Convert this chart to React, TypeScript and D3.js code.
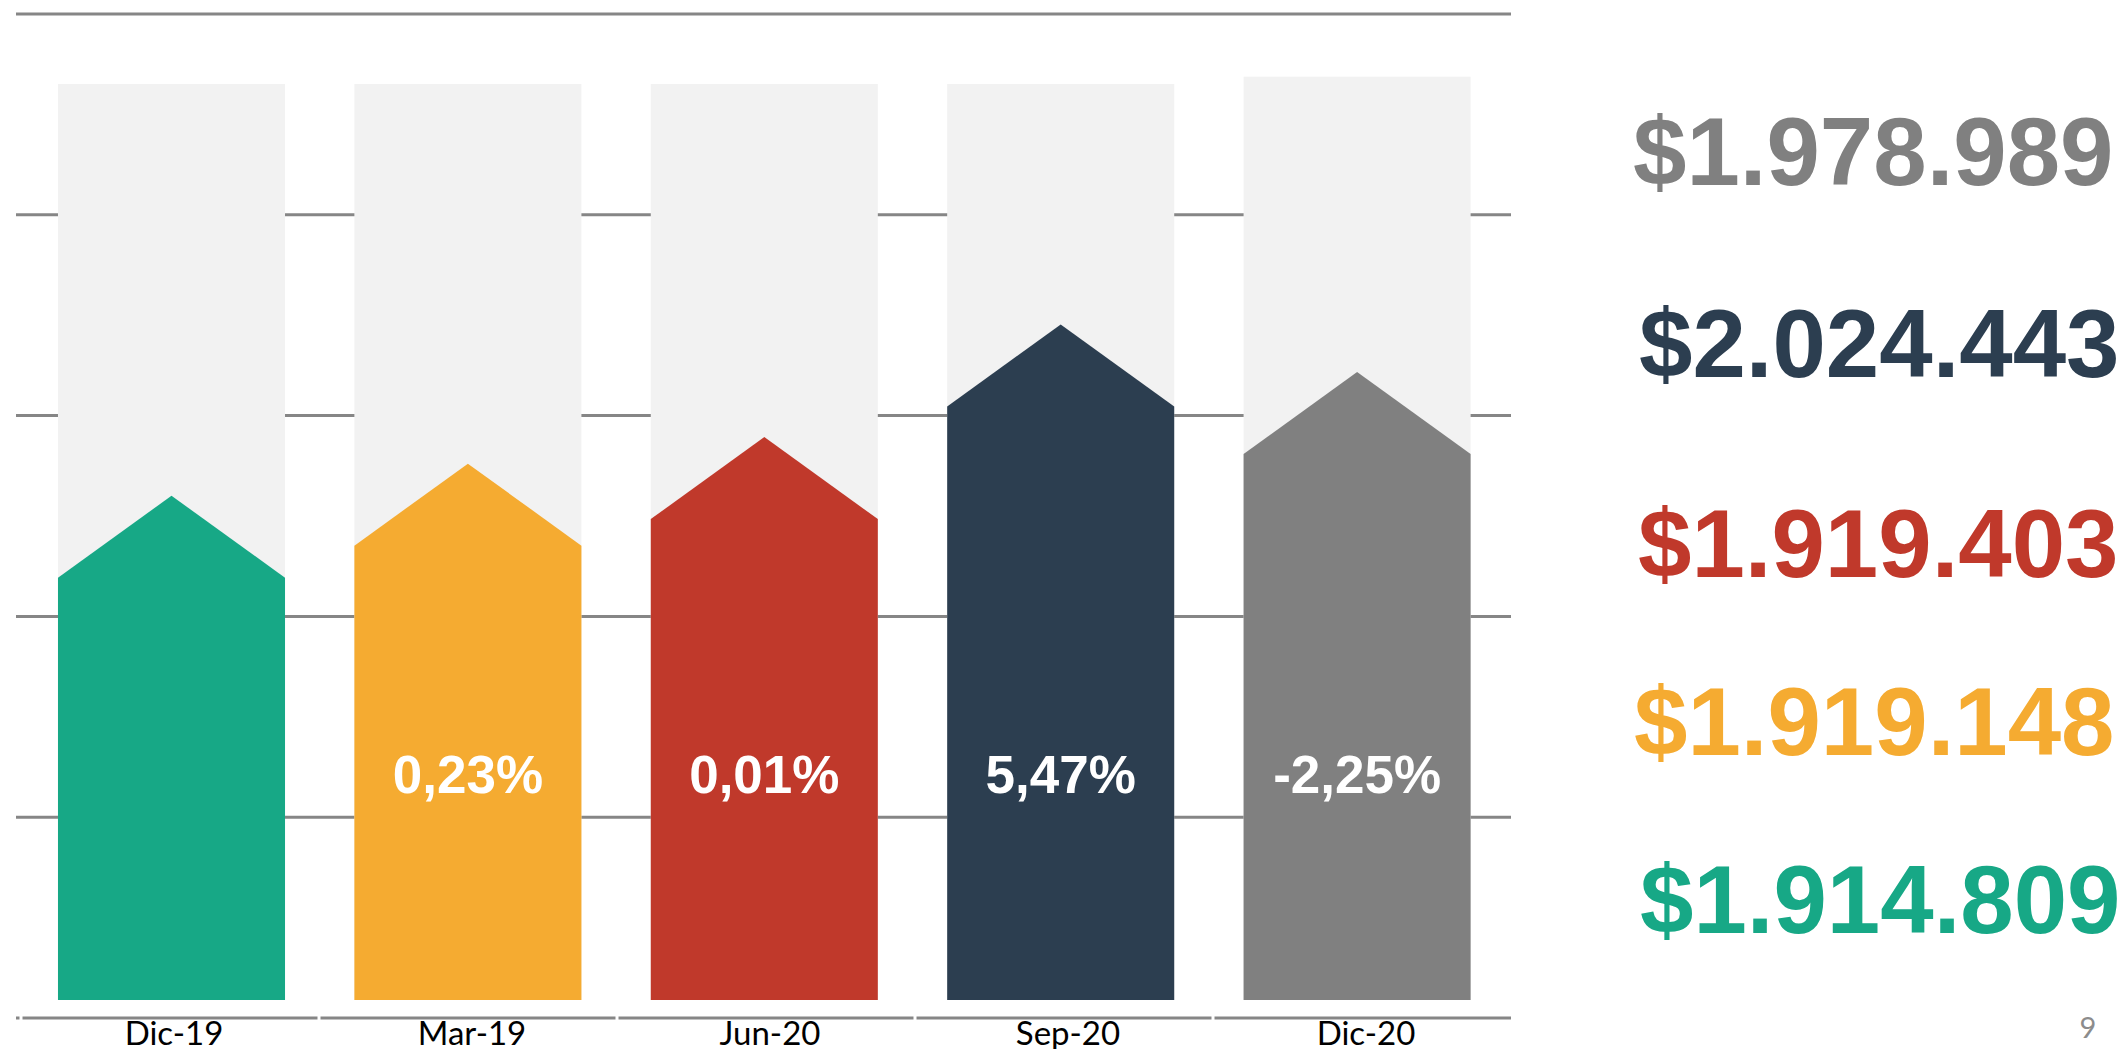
import React from "react";
import * as d3 from "d3";

// quarters and closing amounts
const categories = ["Dic-19", "Mar-19", "Jun-20", "Sep-20", "Dic-20"];
const amounts = [1914809, 1919148, 1919403, 2024443, 1978989];
// arrow shoulder level of each bar, and the pale track behind it (0-100 of the bar area)
const barLevels = [46.1, 49.6, 52.5, 64.8, 59.6];
const trackLevels = [100, 100, 100, 100, 100.8];
const colors = ["#17a886", "#f5ab31", "#c0392b", "#2c3e50", "#808080"];
const gridTicks = [0, 20, 40, 60, 80, 100];

const W = 2123;
const H = 1049;
const headH = 82; // arrow head height, px

// right hand amounts, drawn top to bottom (last quarter first)
const amountRows = [
  { idx: 4, x: 1633, y: 185 },
  { idx: 3, x: 1639, y: 377 },
  { idx: 2, x: 1638, y: 577 },
  { idx: 1, x: 1634, y: 755 },
  { idx: 0, x: 1640, y: 933 },
];

const fmtAmount = (v: number) =>
  "$" + d3.format(",")(v).replace(/,/g, ".");

const fmtChange = (cur: number, prev: number) =>
  (((cur - prev) / prev) * 100).toFixed(2).replace(".", ",") + "%";

export default function App() {
  // gridlines / category axis
  const yGrid = d3.scaleLinear().domain([0, 100]).range([1018, 14]);
  const xAxis = d3.scaleBand().domain(categories).range([21, 1511]);
  // bars
  const xBar = d3
    .scaleBand()
    .domain(categories)
    .range([23.3, 1505.3])
    .paddingInner(0.234)
    .paddingOuter(0.117);
  const yBar = d3.scaleLinear().domain([0, 100]).range([1000, 84]);

  const arrow = (i: number) => {
    const x0 = xBar(categories[i])!;
    const x1 = x0 + xBar.bandwidth();
    const ys = yBar(barLevels[i]);
    const line = d3.line();
    return (
      line([
        [x0, yBar(0)],
        [x0, ys],
        [(x0 + x1) / 2, ys - headH],
        [x1, ys],
        [x1, yBar(0)],
      ]) + "Z"
    );
  };

  return (
    <svg
      width={W}
      height={H}
      style={{ position: "absolute", left: 0, top: 0, display: "block", background: "#fff" }}
    >
      {/* gridlines */}
      {gridTicks.slice(1).map((t) => (
        <line
          key={t}
          x1={16}
          x2={1511}
          y1={yGrid(t)}
          y2={yGrid(t)}
          stroke="#868686"
          strokeWidth={3}
        />
      ))}

      {/* category axis with gaps at the tick positions */}
      <line x1={16} x2={1511} y1={yGrid(0)} y2={yGrid(0)} stroke="#868686" strokeWidth={3} />
      {categories.map((c) => (
        <rect
          key={"gap" + c}
          x={xAxis(c)! - 1.5}
          y={yGrid(0) - 3}
          width={3}
          height={6}
          fill="#fff"
        />
      ))}

      {/* bars */}
      {categories.map((c, i) => (
        <g key={c}>
          <rect
            x={xBar(c)!}
            y={yBar(trackLevels[i])}
            width={xBar.bandwidth()}
            height={yBar(0) - yBar(trackLevels[i])}
            fill="#f2f2f2"
          />
          <path d={arrow(i)} fill={colors[i]} />
          {i > 0 && (
            <text
              x={xBar(c)! + xBar.bandwidth() / 2}
              y={793}
              textAnchor="middle"
              fill="#fff"
              fontFamily="'Liberation Sans', Arial, sans-serif"
              fontWeight="bold"
              fontSize={53}
            >
              {fmtChange(amounts[i], amounts[i - 1])}
            </text>
          )}
        </g>
      ))}

      {/* category labels */}
      {categories.map((c) => (
        <text
          key={"lab" + c}
          x={xAxis(c)! + xAxis.bandwidth() / 2 + 4}
          y={1045}
          textAnchor="middle"
          fill="#000"
          fontFamily="Lato, 'Liberation Sans Narrow', sans-serif"
          fontSize={33}
        >
          {c}
        </text>
      ))}

      {/* amounts */}
      {amountRows.map((r) => (
        <text
          key={"amt" + r.idx}
          x={r.x}
          y={r.y}
          fill={colors[r.idx]}
          fontFamily="'Liberation Sans', Arial, sans-serif"
          fontWeight="bold"
          fontSize={96}
        >
          {fmtAmount(amounts[r.idx])}
        </text>
      ))}

      {/* page number */}
      <text
        x={2088}
        y={1038}
        textAnchor="middle"
        fill="#8c8c8c"
        fontFamily="Lato, sans-serif"
        fontSize={29}
      >
        9
      </text>
    </svg>
  );
}
